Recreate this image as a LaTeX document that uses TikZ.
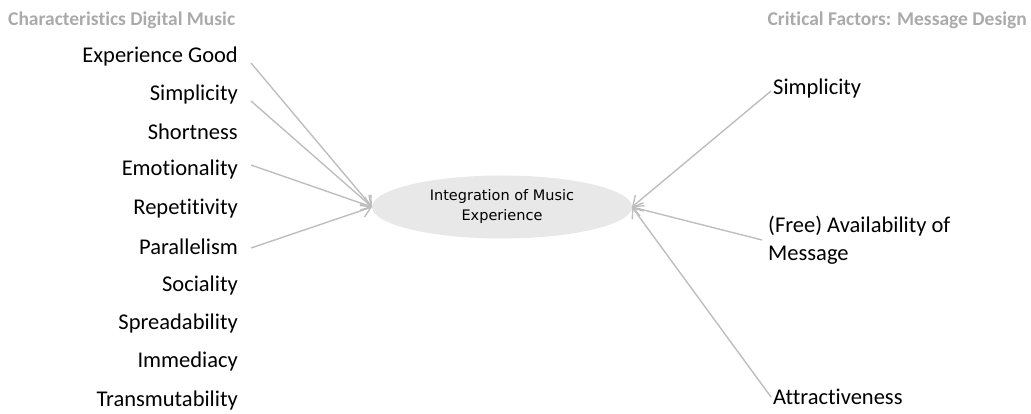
\documentclass[tikz,border=0pt]{standalone}
\usepackage{fontspec}
\setmainfont{Carlito}[Ligatures={NoCommon}]
\newfontfamily\ellfont{DejaVu Sans}
\usetikzlibrary{arrows.meta,shapes.geometric}
\definecolor{titlegray}{RGB}{170,170,170}
\definecolor{linegray}{RGB}{190,190,190}
\definecolor{ellgray}{RGB}{232,232,232}
\begin{document}
\begin{tikzpicture}[x=1pt,y=-1pt,
  lbl/.style={inner sep=0pt, font=\fontsize{22.5}{26}\selectfont, text=black},
  ttl/.style={inner sep=0pt, font=\bfseries\fontsize{19.5}{22}\selectfont, text=titlegray},
  conn/.style={draw=linegray, line width=1.4pt, -{Straight Barb[length=9pt,width=14pt,line width=1.4pt]}},
  center/.style={ellipse, fill=ellgray, minimum width=260pt, minimum height=63pt, inner sep=0pt,
    align=center, font=\ellfont\fontsize{14.5}{20}\selectfont}]
\useasboundingbox (0,0) rectangle (1031,414);
% titles
\node[ttl, anchor=west] (tl) at (8,20) {Characteristics Digital Music};
\node[ttl, anchor=east] (tr) at (1027,20) {Critical Factors: Message Design};
% center
\node[center] (c) at (502,207) {Integration of Music\\Experience};
\coordinate (cl) at (372,207);
\coordinate (cr) at (632,207);
% left labels
\node[lbl, anchor=east] (l1) at (238,57) {Experience Good};
\node[lbl, anchor=east] (l2) at (238,95) {Simplicity};
\node[lbl, anchor=east] (l3) at (238,132) {Shortness};
\node[lbl, anchor=east] (l4) at (238,170) {Emotionality};
\node[lbl, anchor=east] (l5) at (238,209) {Repetitivity};
\node[lbl, anchor=east] (l6) at (238,247) {Parallelism};
\node[lbl, anchor=east] (l7) at (238,286) {Sociality};
\node[lbl, anchor=east] (l8) at (238,324) {Spreadability};
\node[lbl, anchor=east] (l9) at (238,362) {Immediacy};
\node[lbl, anchor=east] (l10) at (238,400) {Transmutability};
% right labels
\node[lbl, anchor=west] (r1) at (773,89) {Simplicity};
\node[lbl, anchor=north west, align=left, font=\fontsize{22.5}{28}\selectfont] (r2) at (768,216) {(Free) Availability of\\Message};
\node[lbl, anchor=west] (r3) at (773,397) {Attractiveness};
% connector start points
\coordinate (s1) at (251,63);
\coordinate (s2) at (251,101);
\coordinate (s4) at (251,165);
\coordinate (s6) at (251,248);
\coordinate (t1) at (771,91);
\coordinate (t2) at (762,240);
\coordinate (t3) at (771,397);
% connectors
\draw[conn] (s1) -- (cl);
\draw[conn] (s2) -- (cl);
\draw[conn] (s4) -- (cl);
\draw[conn] (s6) -- (cl);
\draw[conn] (t1) -- (cr);
\draw[conn] (t2) -- (cr);
\draw[conn] (t3) -- (cr);
\end{tikzpicture}
\end{document}
